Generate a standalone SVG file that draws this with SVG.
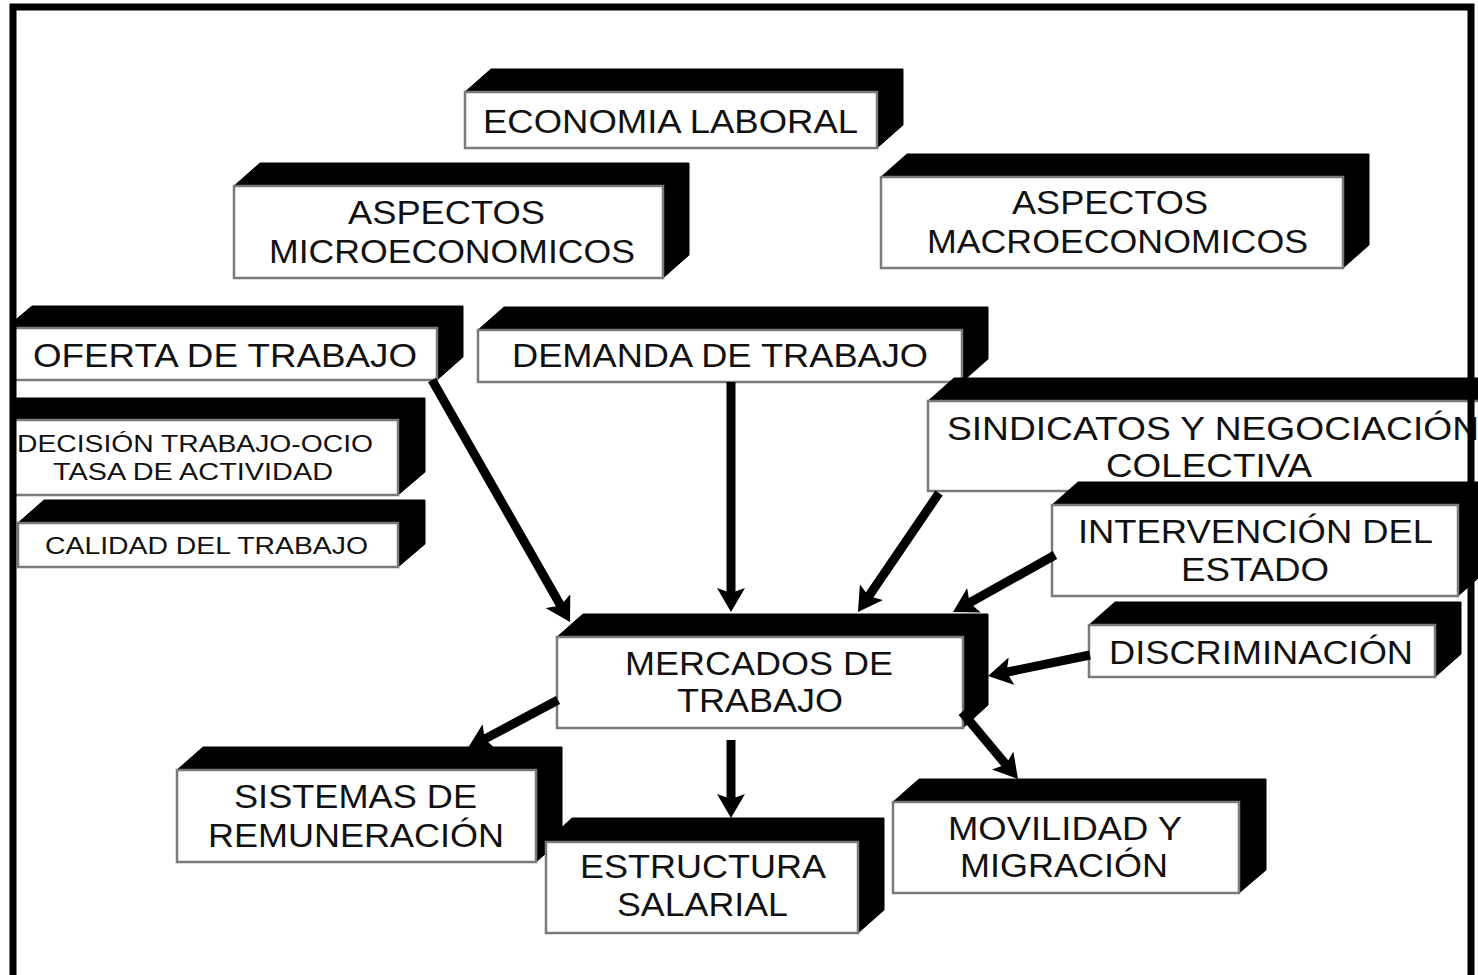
<svg xmlns="http://www.w3.org/2000/svg" width="1478" height="975" viewBox="0 0 1478 975">
<style>
.ext{fill:#000;stroke:#000;stroke-width:1}
.face{fill:#fff;stroke:#7a7a7a;stroke-width:2.5}
.t{font-family:"Liberation Sans",Arial,sans-serif;font-size:34px;fill:#111;text-anchor:middle}
.s{font-size:24px}
.con{stroke:#000;stroke-width:9;fill:none;marker-end:url(#ah)}
</style>
<defs>
<marker id="ah" viewBox="0 0 24 28" refX="9" refY="14" markerWidth="24" markerHeight="28" markerUnits="userSpaceOnUse" orient="auto">
<path d="M0,0 L24,14 L0,28 L5,14 z" fill="#000"/>
</marker>
<clipPath id="inside"><rect x="10" y="0" width="1468" height="975"/></clipPath>
</defs>
<rect width="1478" height="975" fill="#fff"/>

<g clip-path="url(#inside)">
<g id="economia">
<polygon class="ext" points="465,92 491,69 903,69 903,125 877,148 465,148"/>
<rect class="face" x="465" y="92" width="412" height="56"/>
<text class="t" x="670.5" y="133" textLength="375" lengthAdjust="spacingAndGlyphs">ECONOMIA LABORAL</text>
</g>

<g id="micro">
<polygon class="ext" points="234,186 260,163 689,163 689,255 663,278 234,278"/>
<rect class="face" x="234" y="186" width="429" height="92"/>
<text class="t" x="446.5" y="224" textLength="197" lengthAdjust="spacingAndGlyphs">ASPECTOS</text>
<text class="t" x="452" y="263" textLength="366" lengthAdjust="spacingAndGlyphs">MICROECONOMICOS</text>
</g>

<g id="macro">
<polygon class="ext" points="881,177 907,154 1369,154 1369,245 1343,268 881,268"/>
<rect class="face" x="881" y="177" width="462" height="91"/>
<text class="t" x="1110" y="214" textLength="196" lengthAdjust="spacingAndGlyphs">ASPECTOS</text>
<text class="t" x="1117.5" y="253" textLength="381" lengthAdjust="spacingAndGlyphs">MACROECONOMICOS</text>
</g>

<g id="oferta">
<polygon class="ext" points="6,328 32,306 463,306 463,357 437,380 6,380"/>
<rect class="face" x="6" y="328" width="431" height="52"/>
<text class="t" x="225" y="367" textLength="384" lengthAdjust="spacingAndGlyphs">OFERTA DE TRABAJO</text>
</g>

<g id="demanda">
<polygon class="ext" points="478,330 504,307 988,307 988,359 962,382 478,382"/>
<rect class="face" x="478" y="330" width="484" height="52"/>
<text class="t" x="720" y="367" textLength="416" lengthAdjust="spacingAndGlyphs">DEMANDA DE TRABAJO</text>
</g>

<g id="decision">
<polygon class="ext" points="-10,420 16,398 425,398 425,472 398,495 -10,495"/>
<rect class="face" x="-10" y="420" width="408" height="75"/>
<text class="t s" x="195" y="452" textLength="356" lengthAdjust="spacingAndGlyphs">DECISIÓN TRABAJO-OCIO</text>
<text class="t s" x="193" y="480" textLength="280" lengthAdjust="spacingAndGlyphs">TASA DE ACTIVIDAD</text>
</g>

<g id="calidad">
<polygon class="ext" points="18,523 44,500 425,500 425,544 398,567 18,567"/>
<rect class="face" x="18" y="523" width="380" height="44"/>
<text class="t s" x="206.5" y="554" textLength="323" lengthAdjust="spacingAndGlyphs">CALIDAD DEL TRABAJO</text>
</g>

<g id="sindicatos">
<polygon class="ext" points="928,401 954,378 1514,378 1514,468 1488,491 928,491"/>
<rect class="face" x="928" y="401" width="560" height="90"/>
<text class="t" x="1213" y="440" textLength="532" lengthAdjust="spacingAndGlyphs">SINDICATOS Y NEGOCIACIÓN</text>
<text class="t" x="1209" y="477" textLength="206" lengthAdjust="spacingAndGlyphs">COLECTIVA</text>
</g>

<g id="intervencion">
<polygon class="ext" points="1052,505 1078,482 1484,482 1484,573 1458,596 1052,596"/>
<rect class="face" x="1052" y="505" width="406" height="91"/>
<text class="t" x="1255.5" y="543" textLength="355" lengthAdjust="spacingAndGlyphs">INTERVENCIÓN DEL</text>
<text class="t" x="1255" y="581" textLength="148" lengthAdjust="spacingAndGlyphs">ESTADO</text>
</g>

<g id="discriminacion">
<polygon class="ext" points="1089,625 1115,602 1461,602 1461,654 1435,677 1089,677"/>
<rect class="face" x="1089" y="625" width="346" height="52"/>
<text class="t" x="1261" y="664" textLength="304" lengthAdjust="spacingAndGlyphs">DISCRIMINACIÓN</text>
</g>

<g id="mercados">
<polygon class="ext" points="557,637 583,614 988,614 988,705 963,728 557,728"/>
<rect class="face" x="557" y="637" width="406" height="91"/>
<text class="t" x="759" y="675" textLength="268" lengthAdjust="spacingAndGlyphs">MERCADOS DE</text>
<text class="t" x="760" y="712" textLength="166" lengthAdjust="spacingAndGlyphs">TRABAJO</text>
</g>

<g id="sistemas">
<polygon class="ext" points="177,770 203,747 562,747 562,839 536,862 177,862"/>
<rect class="face" x="177" y="770" width="359" height="92"/>
<text class="t" x="355.5" y="808" textLength="243" lengthAdjust="spacingAndGlyphs">SISTEMAS DE</text>
<text class="t" x="356" y="847" textLength="296" lengthAdjust="spacingAndGlyphs">REMUNERACIÓN</text>
</g>

<g id="estructura">
<polygon class="ext" points="546,842 572,818 884,818 884,910 858,933 546,933"/>
<rect class="face" x="546" y="842" width="312" height="91"/>
<text class="t" x="703" y="878" textLength="246" lengthAdjust="spacingAndGlyphs">ESTRUCTURA</text>
<text class="t" x="702.5" y="916" textLength="171" lengthAdjust="spacingAndGlyphs">SALARIAL</text>
</g>

<g id="movilidad">
<polygon class="ext" points="893,802 919,779 1266,779 1266,870 1239,893 893,893"/>
<rect class="face" x="893" y="802" width="346" height="91"/>
<text class="t" x="1065" y="840" textLength="234" lengthAdjust="spacingAndGlyphs">MOVILIDAD Y</text>
<text class="t" x="1064" y="877" textLength="208" lengthAdjust="spacingAndGlyphs">MIGRACIÓN</text>
</g>

<g id="connectors">
<path class="con" d="M432,380 L562.6,609"/>
<path class="con" d="M731,382 L731,597"/>
<path class="con" d="M939,493 L866.4,599.6"/>
<path class="con" d="M1055,555 L966.1,604.7"/>
<path class="con" d="M1090,655 L1002.7,673"/>
<path class="con" d="M558,700 L481.2,740.9"/>
<path class="con" d="M731,740 L731,803"/>
<path class="con" d="M962,712 L1008.4,767.5"/>
</g>
</g>

<g id="frame">
<rect x="13" y="7" width="1458" height="1000" fill="none" stroke="#000" stroke-width="7"/>
</g>
</svg>
